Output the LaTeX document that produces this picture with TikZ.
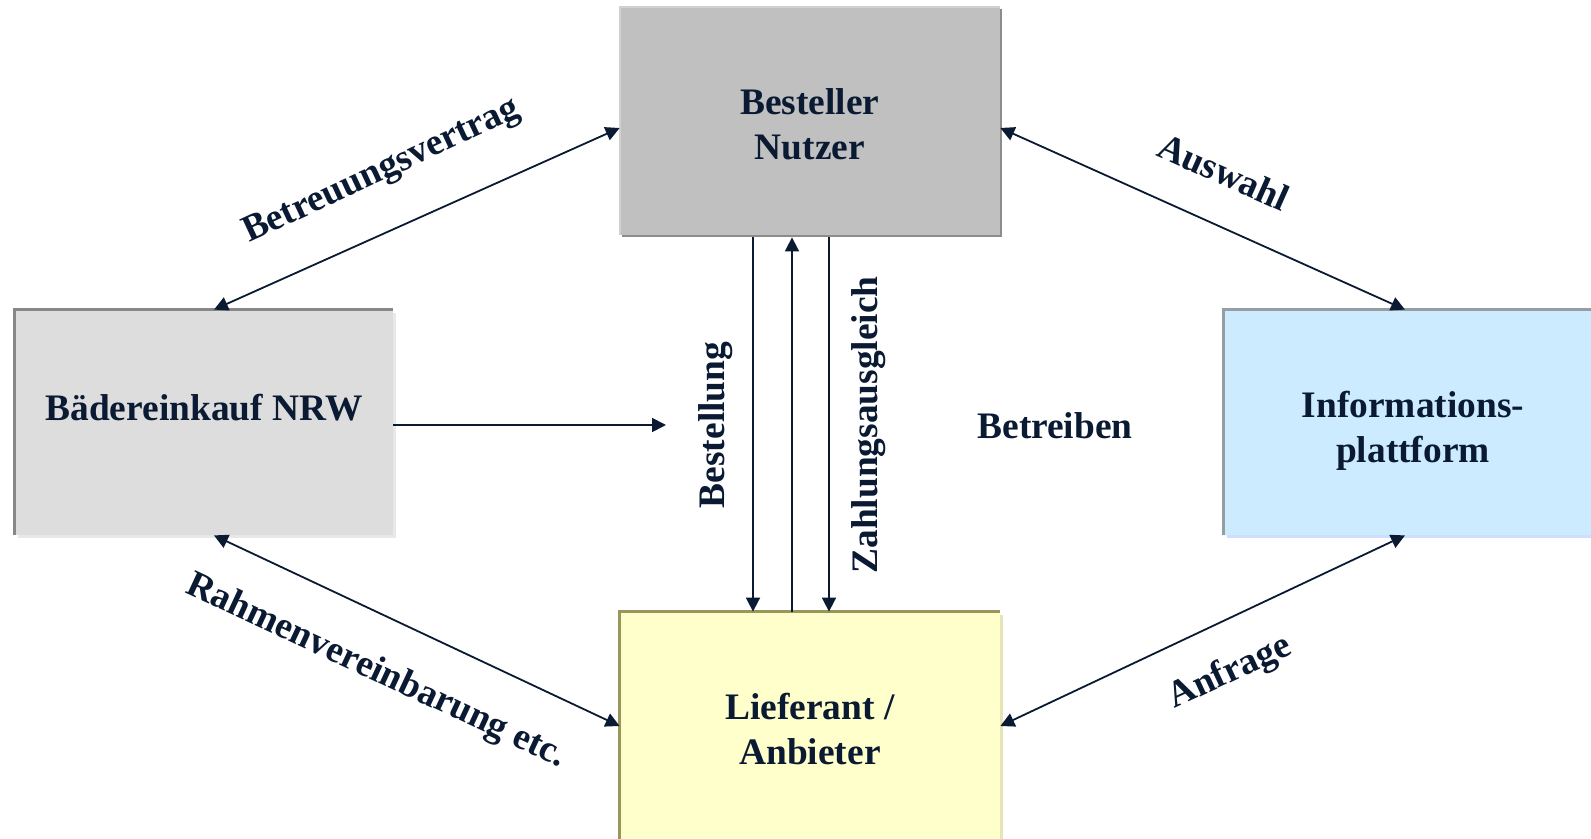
\documentclass[tikz,border=0pt]{standalone}
\usepackage{fontspec}
\setmainfont{Liberation Serif}
\usetikzlibrary{arrows.meta,positioning,shadows}
\definecolor{ink}{HTML}{0B1A33}
\definecolor{besfill}{HTML}{C0C0C0}
\definecolor{badfill}{HTML}{DDDDDD}
\definecolor{inffill}{HTML}{CCEBFF}
\definecolor{liefill}{HTML}{FFFFCC}
\begin{document}
\begin{tikzpicture}[x=0.5pt,y=-0.5pt,
  box/.style={minimum width=190pt,minimum height=114pt,inner sep=0pt},
  boxtext/.style={align=center,inner sep=0pt,font=\bfseries\fontsize{18.7}{22.5}\selectfont,text=ink},
  link/.style={draw=ink,line width=0.9pt,{Triangle[length=7pt,width=7pt]}-{Triangle[length=7pt,width=7pt]}},
  flow/.style={draw=ink,line width=0.9pt,-{Triangle[length=7pt,width=7pt]}},
  lbl/.style={font=\bfseries\fontsize{18.7}{22.5}\selectfont,text=ink,inner sep=0pt}]
\useasboundingbox (0,0) rectangle (1591,839);
% boxes
\node[box,fill=besfill,drop shadow={shadow xshift=1.2pt,shadow yshift=-1.2pt,opacity=1,fill=gray!110!black}] (bes) at (810,121) {};
\node[box,fill=badfill,minimum width=189pt,minimum height=112.5pt,drop shadow={shadow xshift=1.5pt,shadow yshift=-1.5pt,opacity=1,fill=black!9}] (bad) at (204,422.5) {};
\node[box,fill=inffill,minimum width=189pt,minimum height=112.5pt,drop shadow={shadow xshift=1.5pt,shadow yshift=-1.5pt,opacity=1,fill=inffill!85!blue!60}] (inf) at (1413,422.5) {};
\node[box,fill=liefill,drop shadow={shadow xshift=1.5pt,shadow yshift=-1.5pt,opacity=1,fill=liefill!90!black}] (lie) at (810,726) {};
\draw[black!18,line width=1pt] (bes.south west) -- (bes.north west) -- (bes.north east);
\draw[black!47,line width=1.2pt] (bad.south west) -- (bad.north west) -- (bad.north east);
\draw[inffill!40!black!60,line width=1.2pt] (inf.south west) -- (inf.north west) -- (inf.north east);
\draw[olive!45!gray!90,line width=1.2pt] (lie.south west) -- (lie.north west) -- (lie.north east);
\node[boxtext] (bestxt) at ([yshift=-1.5pt]bes.center) {Besteller\\Nutzer};
\node[boxtext] (badtxt) at ([yshift=7.5pt]bad.center) {Bädereinkauf NRW};
\node[boxtext] (inftxt) at ([yshift=-4pt]inf.center) {Informations-\\plattform};
\node[boxtext] (lietxt) at ([yshift=-1.5pt]lie.center) {Lieferant /\\Anbieter};
% connectors
\draw[link] ([xshift=5pt]bad.north) -- ([yshift=-3.5pt]bes.west);
\draw[link] ([yshift=-3.5pt]bes.east) -- ([xshift=-4pt]inf.north);
\draw[link] ([xshift=5pt]bad.south) -- (lie.west);
\draw[link] (lie.east) -- ([xshift=-4pt]inf.south);
\coordinate (mid) at (666,425);
\draw[flow] (bad.east |- mid) -- (mid);
\draw[flow] ([xshift=-28.5pt,yshift=-1pt]bes.south) -- ([xshift=-28.5pt]lie.north);
\draw[flow] ([xshift=-9pt]lie.north) -- ([xshift=-9pt,yshift=-1pt]bes.south);
\draw[flow] ([xshift=9.5pt,yshift=-1pt]bes.south) -- ([xshift=9.5pt]lie.north);
% labels
\node[lbl,rotate=25] (betr) at (382,172) {Betreuungsvertrag};
\node[lbl,rotate=-24] (ausw) at (1224,172) {Auswahl};
\node[lbl,rotate=-25] (rahm) at (376,672) {Rahmenvereinbarung etc.};
\node[lbl,rotate=25] (anfr) at (1230,673) {Anfrage};
\node[lbl,rotate=90] (bstl) at (716,425) {Bestellung};
\node[lbl,rotate=90] (zahl) at (869,425) {Zahlungsausgleich};
\node[lbl] (btrb) at (1055,426) {Betreiben};
\end{tikzpicture}
\end{document}
